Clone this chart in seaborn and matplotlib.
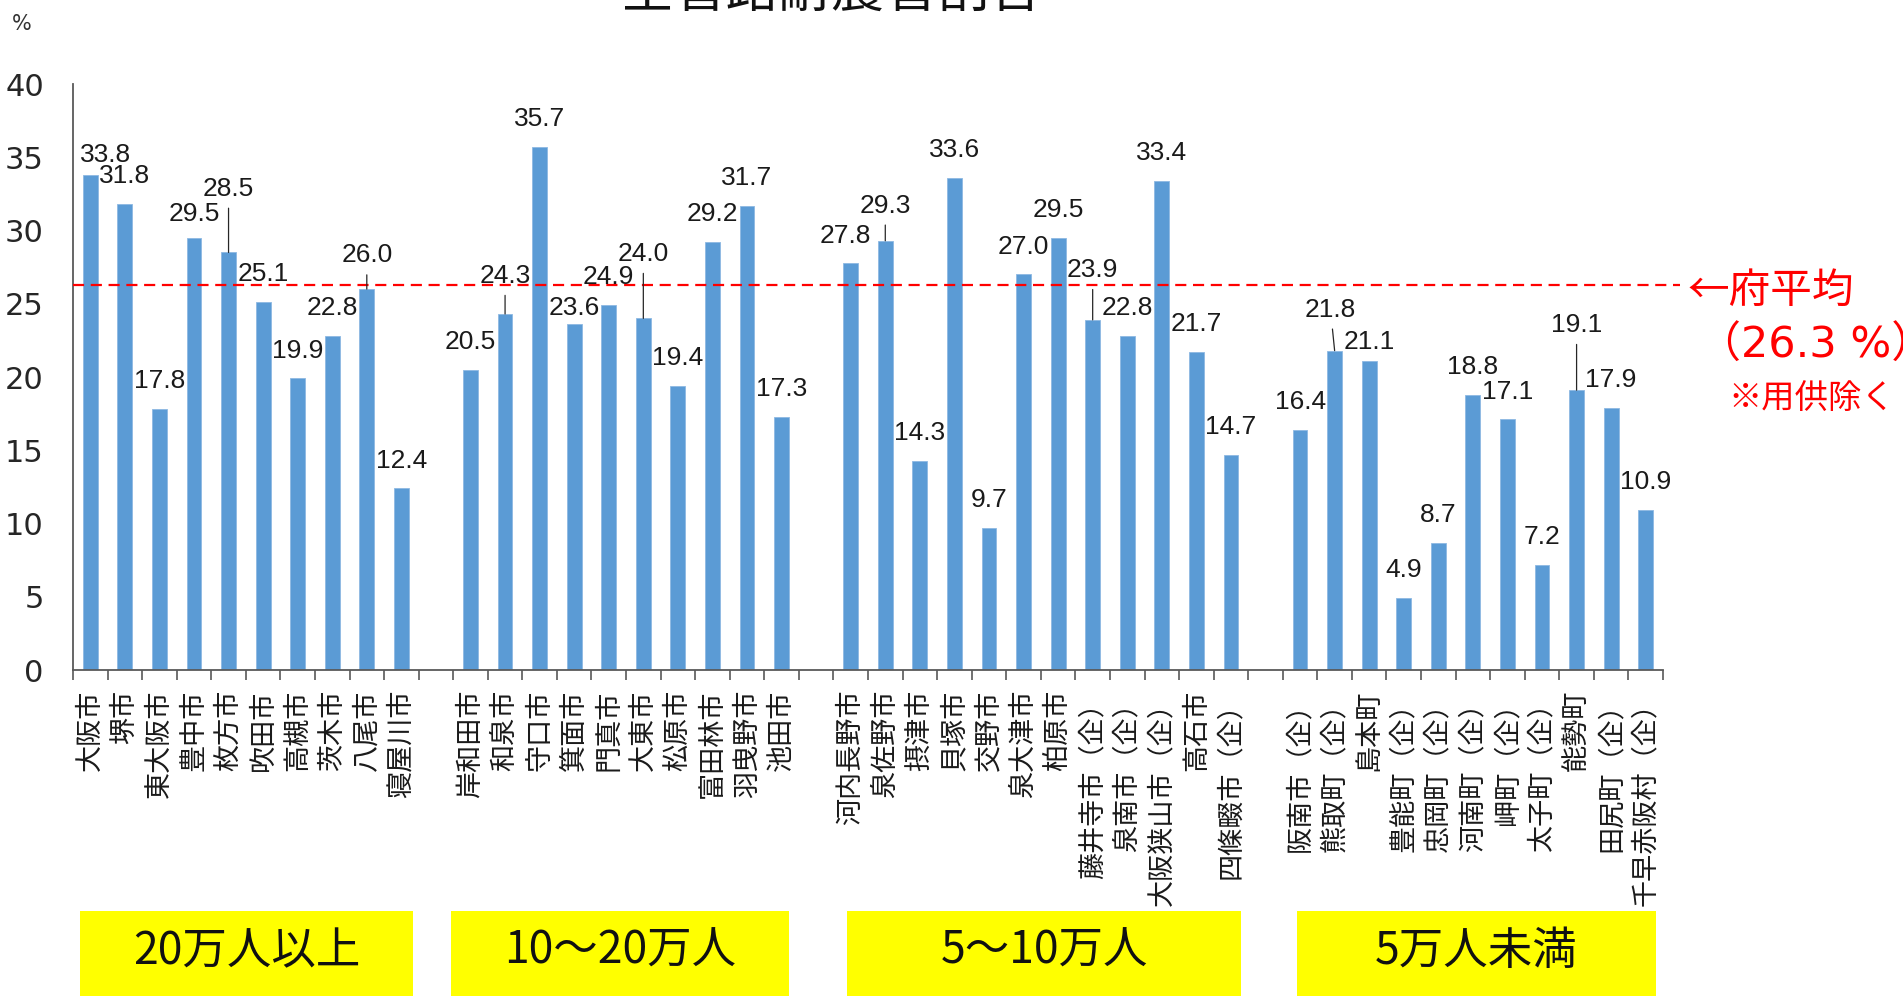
import numpy as np
import pandas as pd
import matplotlib
matplotlib.use("Agg")
import matplotlib.pyplot as plt
import matplotlib.transforms as mtransforms
from matplotlib.patches import Rectangle
import seaborn as sns

# ---- data: share of earthquake-resistant pipes in all pipelines (%) ----
group_names = ["20万人以上", "10～20万人", "5～10万人", "5万人未満"]

cities_200k = ["大阪市", "堺市", "東大阪市", "豊中市", "枚方市", "吹田市",
               "高槻市", "茨木市", "八尾市", "寝屋川市"]
rates_200k = [33.8, 31.8, 17.8, 29.5, 28.5, 25.1, 19.9, 22.8, 26.0, 12.4]

cities_100k = ["岸和田市", "和泉市", "守口市", "箕面市", "門真市", "大東市",
               "松原市", "富田林市", "羽曳野市", "池田市"]
rates_100k = [20.5, 24.3, 35.7, 23.6, 24.9, 24.0, 19.4, 29.2, 31.7, 17.3]

cities_50k = ["河内長野市", "泉佐野市", "摂津市", "貝塚市", "交野市", "泉大津市",
              "柏原市", "藤井寺市（企）", "泉南市（企）", "大阪狭山市（企）",
              "高石市", "四條畷市（企）"]
rates_50k = [27.8, 29.3, 14.3, 33.6, 9.7, 27.0, 29.5, 23.9, 22.8, 33.4, 21.7, 14.7]

cities_small = ["阪南市（企）", "熊取町（企）", "島本町", "豊能町（企）", "忠岡町（企）",
                "河南町（企）", "岬町（企）", "太子町（企）", "能勢町", "田尻町（企）",
                "千早赤阪村（企）"]
rates_small = [16.4, 21.8, 21.1, 4.9, 8.7, 18.8, 17.1, 7.2, 19.1, 17.9, 10.9]

pref_average = 26.3

# value labels that sit away from their bar: (dx in slots, dy in %, leader line)
label_moves = {
    "大阪市": (0.44, 1.35, False),
    "豊中市": (0.0, 1.6, False),
    "枚方市": (0.0, 4.35, True),
    "八尾市": (0.0, 2.3, True),
    "和泉市": (0.0, 2.6, True),
    "箕面市": (0.0, 1.1, False),
    "大東市": (0.0, 4.4, True),
    "河内長野市": (-0.16, 1.8, False),
    "泉佐野市": (0.0, 2.4, True),
    "藤井寺市（企）": (0.0, 3.4, True),
    "熊取町（企）": (-0.12, 2.8, True),
    "島本町": (0.0, 1.3, False),
    "能勢町": (0.0, 4.45, True),
}
default_dy = 1.9

# ---- assemble one table, with an empty slot between population classes ----
groups = [(cities_200k, rates_200k), (cities_100k, rates_100k),
          (cities_50k, rates_50k), (cities_small, rates_small)]
order, rows = [], []
for gi, (names, vals) in enumerate(groups):
    if gi > 0:
        order.append(" " * gi)
    for n, v in zip(names, vals):
        order.append(n)
        rows.append({"city": n, "rate": v})
df = pd.DataFrame(rows)

# ---- figure ----
sns.set_theme(style="white")
plt.rcParams["font.family"] = ["Noto Sans CJK JP", "DejaVu Sans"]

W, H = 1903, 996
fig = plt.figure(figsize=(W / 100, H / 100), dpi=100)
fig.patch.set_facecolor("white")
ax = fig.add_axes([73 / W, 1 - 670 / H, (1663 - 73) / W, (670 - 84) / H])

sns.barplot(data=df, x="city", y="rate", order=order, color="#5B9BD5",
            saturation=1, width=0.43, errorbar=None, ax=ax,
            edgecolor="#8DB8E2", linewidth=0.6)

ax.set_xlim(-0.5, len(order) - 0.5)
ax.set_ylim(0, 40)
ax.set_xlabel("")
ax.set_ylabel("")

# spines and ticks
for s in ["top", "right"]:
    ax.spines[s].set_visible(False)
for s in ["left", "bottom"]:
    ax.spines[s].set_color("#595959")
    ax.spines[s].set_linewidth(1.3)

ax.set_yticks(np.arange(0, 41, 5))
ax.set_yticklabels([str(v) for v in range(0, 41, 5)], fontfamily="DejaVu Sans",
                   fontsize=22, color="#262626")
ax.tick_params(axis="y", direction="out", length=8, width=1.2, color="#595959", pad=13)

ax.set_xticks(np.arange(len(order)))
ax.set_xticklabels([o.strip() for o in order], rotation=90, fontsize=19.5,
                   fontfamily="Noto Sans CJK JP", color="#1a1a1a", va="top", ha="center")
ax.tick_params(axis="x", which="major", length=0, pad=14)
ax.set_xticks(np.arange(-0.5, len(order), 1.0), minor=True)
ax.tick_params(axis="x", which="minor", direction="out", length=7, width=1.2,
               color="#595959", bottom=True)

# prefecture average
ax.axhline(pref_average, xmin=0, xmax=1.011, color="#FF0000", lw=1.6,
           dashes=(5, 3), clip_on=False, zorder=3)

# value labels
pos = {n: i for i, n in enumerate(order)}
for _, r in df.iterrows():
    x, v = pos[r["city"]], r["rate"]
    dx, dy, leader = label_moves.get(r["city"], (0.0, default_dy, False))
    kw = {}
    if leader:
        kw["arrowprops"] = dict(arrowstyle="-", color="#262626", lw=0.9,
                                shrinkA=3, shrinkB=0)
    ax.annotate(f"{v:.1f}", xy=(x, v), xytext=(x + dx, v + dy),
                ha="center", va="center", fontsize=19,
                fontfamily="Liberation Sans", color="#1a1a1a", **kw)

# red note for the average
fig.text(1688 / W, 1 - 291 / H, "←府平均", color="#FF0000", fontsize=30,
         ha="left", va="center")
fig.text(1698 / W, 1 - 346 / H, "（26.3 %）", color="#FF0000", fontsize=31,
         ha="left", va="center", family=["DejaVu Sans", "Noto Sans CJK JP"])
fig.text(1728 / W, 1 - 399 / H, "※用供除く", color="#FF0000", fontsize=24,
         ha="left", va="center")

# title (partly above the top edge)
fig.text(831 / W, 1 - 7 / H, "全管路耐震管割合", fontsize=38, color="#111111",
         ha="center", va="baseline")
# unit
fig.text(22 / W, 1 - 24 / H, "%", fontsize=15, color="#333333",
         ha="center", va="center", fontfamily="DejaVu Sans")

# population-class boxes
trans = mtransforms.blended_transform_factory(ax.transData, fig.transFigure)
box_spans = [(-0.3, 9.35), (10.45, 20.2), (21.9, 33.3), (34.9, 45.3)]
for (x0, x1), name in zip(box_spans, group_names):
    rect = Rectangle((x0, 0), x1 - x0, (H - 911) / H, transform=trans,
                     facecolor="#FFFF00", edgecolor="none", clip_on=False)
    fig.patches.append(rect)
    fig.text((x0 + x1) / 2, 1 - 951 / H, name, transform=trans, fontsize=32,
             ha="center", va="center", color="#111111")

fig.savefig("out.png", dpi=100, facecolor="white")
